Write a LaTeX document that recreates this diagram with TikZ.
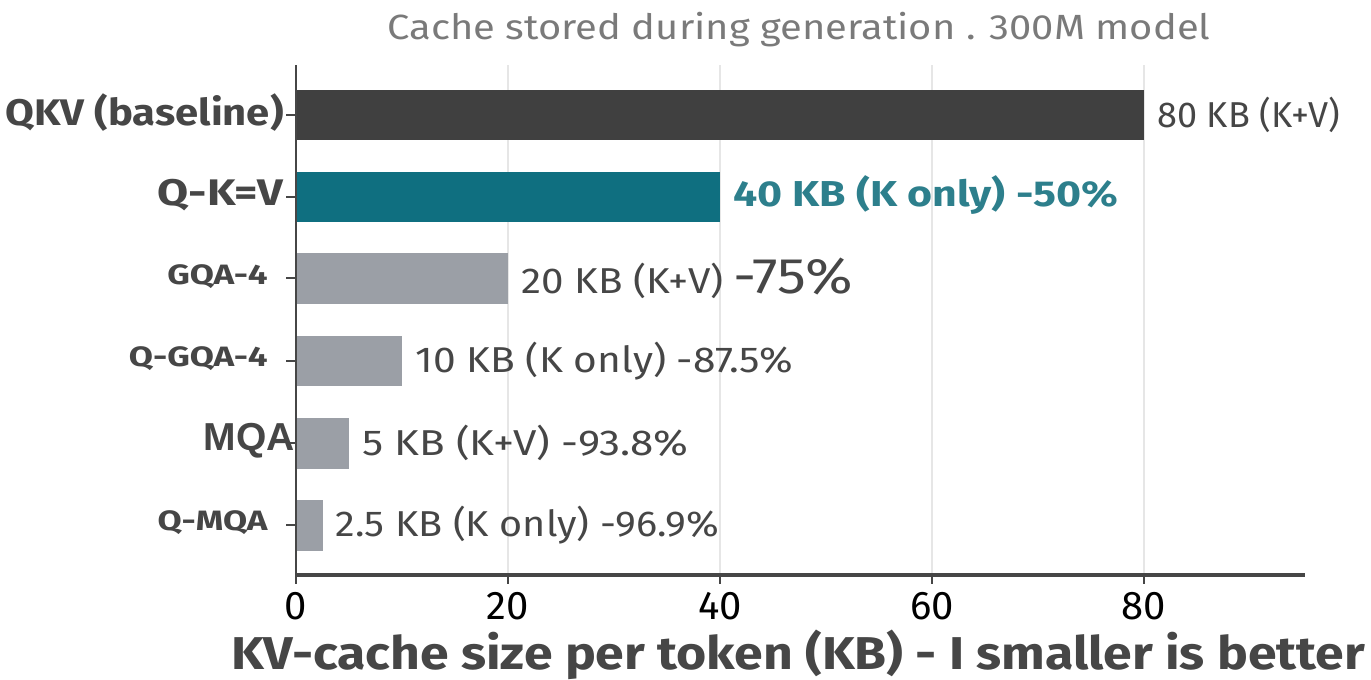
\documentclass[tikz,border=0pt]{standalone}
\usepackage{fontspec}
\setmainfont{Fira Sans}
\newfontfamily\arialfont{Liberation Sans}
\definecolor{bardark}{HTML}{404040}
\definecolor{barteal}{HTML}{0F6F80}
\definecolor{bargray}{HTML}{9B9FA6}
\definecolor{txtgray}{HTML}{464646}
\definecolor{ttlgray}{HTML}{7A7A7A}
\definecolor{tealtxt}{HTML}{2D7F8C}
\definecolor{gridgray}{HTML}{E6E6E6}
% horizontally stretched text
\newcommand{\wide}[2]{\scalebox{#1}[1]{#2}}
\begin{document}
\begin{tikzpicture}[x=0.5pt,y=-0.5pt,
  vlabel/.style={anchor=west,text=txtgray,font=\fontsize{18}{20}\selectfont,inner sep=0pt},
  ylab/.style={anchor=east,text=txtgray,inner sep=0pt},
  smallcat/.style={ylab,font=\fontsize{14}{16}\selectfont\bfseries},
  bigcat/.style={ylab,font=\fontsize{18.5}{20}\selectfont\bfseries},
  xtick/.style={anchor=north,text=black,font=\fontsize{20}{22}\selectfont,inner sep=0pt},
  gridline/.style={draw=gridgray,line width=0.6pt},
  spine/.style={draw=txtgray,line width=1pt}]
\useasboundingbox (0,0) rectangle (1371,680);
% value axis: 10.6 px per KB, origin at x=296
\coordinate (o) at (296,575);
\coordinate (top) at (296,65);
\coordinate (xend) at (1305,575);
% grid
\foreach \v in {20,40,60,80}{
  \draw[gridline] ({296+10.6*\v},65) -- ({296+10.6*\v},575);
}
% bars
\fill[bardark] (296,90) rectangle (1144,140);
\fill[barteal] (296,172) rectangle (720,222);
\fill[bargray] (296,253) rectangle (508,304);
\fill[bargray] (296,336) rectangle (402,386);
\fill[bargray] (296,418) rectangle (349,469);
\fill[bargray] (296,500) rectangle (322.5,551);
% axes
\draw[spine] (top) -- (o);
\draw[draw=txtgray,line width=1.6pt] (o) -- (xend);
% x ticks and labels
\foreach \v in {0,20,40,60,80}{
  \draw[spine] ({296+10.6*\v},575) -- ({296+10.6*\v},584);
  \node[xtick] (xt\v) at ({296+10.6*\v},592) {\v};
}
% y ticks
\foreach \yy in {115,197,278,361,443,525}{
  \draw[spine] (286,\yy) -- (296,\yy);
}
% category labels
\node[bigcat] (c1) at (284,113) {\wide{1.13}{QKV (baseline)}};
\node[bigcat] (c2) at (284,195) {\wide{1.22}{Q-K=V}};
\node[smallcat] (c3) at (268,277) {\wide{1.25}{GQA-4}};
\node[smallcat] (c4) at (268,359) {\wide{1.25}{Q-GQA-4}};
\node[ylab,font=\fontsize{19.5}{21}\selectfont\arialfont\bfseries] (c5) at (295,441) {MQA};
\node[smallcat] (c6) at (268,523) {\wide{1.25}{Q-MQA}};
% value labels
\node[vlabel] (v1) at (1157,115) {80 KB (K+V)};
\node[vlabel,text=tealtxt,font=\fontsize{18}{20}\selectfont\bfseries] (v2) at (733,195) {\wide{1.19}{40 KB (K only) -50\%}};
\node[vlabel] (v3) at (521,278) {\wide{1.12}{20 KB (K+V)} \wide{1.15}{\fontsize{25}{27}\selectfont -75\%}};
\node[vlabel] (v4) at (415,361) {\wide{1.13}{10 KB (K only) -87.5\%}};
\node[vlabel] (v5) at (362,443) {\wide{1.17}{5 KB (K+V) -93.8\%}};
\node[vlabel] (v6) at (335,525) {\wide{1.1}{2.5 KB (K only) -96.9\%}};
% title and axis title
\node[text=ttlgray,font=\fontsize{17.5}{19}\selectfont,inner sep=0pt] (title) at (799,30) {\wide{1.14}{Cache stored during generation . 300M model}};
\node[text=txtgray,font=\fontsize{23}{25}\selectfont\bfseries,inner sep=0pt] (xlabel) at (798,655) {\wide{1.125}{KV-cache size per token (KB) - I smaller is better}};
\end{tikzpicture}
\end{document}
